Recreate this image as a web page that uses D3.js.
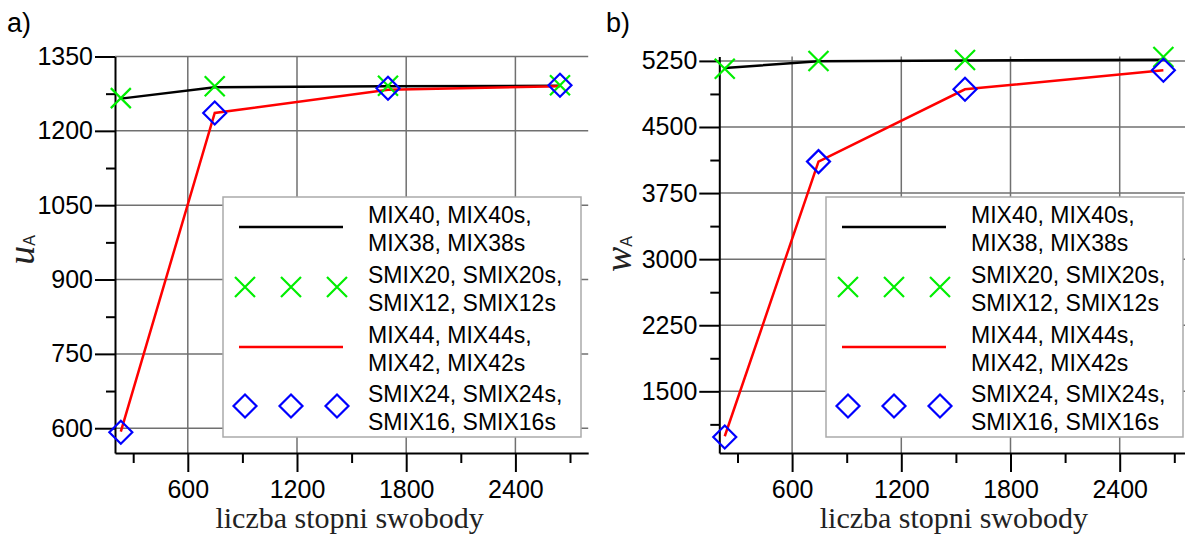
<!DOCTYPE html>
<html><head><meta charset="utf-8">
<script src="https://cdn.jsdelivr.net/npm/d3@7"></script>
<style>body{margin:0;background:#fff;} svg{display:block;}</style>
</head><body>
<svg id="c" width="1185" height="536"></svg>
<script>
// ---- data ----
const dofA = [232, 748, 1700, 2645];   // x positions read from panel a)
const dofB = [230, 745, 1550, 2640];   // x positions read from panel b)
// panel a) u_A
const uA_mixA = [1265, 1288, 1290, 1291];     // MIX40, MIX40s, MIX38, MIX38s (black line)
const uA_smixA = [1266, 1290, 1291, 1292];    // SMIX20 ... (green x)
const uA_mixB = [593, 1236, 1283, 1290];      // MIX44 ... (red line)
const uA_smixB = [592, 1236, 1286, 1292];     // SMIX24 ... (blue diamond)
// panel b) w_A
const wA_mixA = [5170, 5245, 5255, 5262];
const wA_smixA = [5160, 5250, 5260, 5295];
const wA_mixB = [990, 4107, 4928, 5144];
const wA_smixB = [981, 4107, 4928, 5144];
const xTicks = [600, 1200, 1800, 2400];
const xMinor = [300, 900, 1500, 2100, 2700];
const uTicks = [600, 750, 900, 1050, 1200, 1350];
const uMinor = [675, 825, 975, 1125, 1275];
const wTicks = [1500, 2250, 3000, 3750, 4500, 5250];
const wMinor = [1125, 1875, 2625, 3375, 4125, 4875];
const legendLabels = [
  ["MIX40, MIX40s,", "MIX38, MIX38s"],
  ["SMIX20, SMIX20s,", "SMIX12, SMIX12s"],
  ["MIX44, MIX44s,", "MIX42, MIX42s"],
  ["SMIX24, SMIX24s,", "SMIX16, SMIX16s"]
];

const svg = d3.select("#c");
const SANS = "'Liberation Sans', Arial, sans-serif";
const SERIF = "'Liberation Serif', 'Times New Roman', serif";
const fmt = d3.format("d");

function panel(o) {
  const g = svg.append("g");
  const dof = o.dof;
  const x = d3.scaleLinear().domain([200, 2800]).range([o.left, o.left + 473.2]);
  const y = d3.scaleLinear().domain(o.ydom).range([453, 56.5]);
  // grid
  g.append("g").selectAll("line").data(o.yTicks).join("line")
    .attr("x1", x(200)).attr("x2", x(2800)).attr("y1", d => y(d)).attr("y2", d => y(d))
    .attr("stroke", "#707070").attr("stroke-width", 1.5);
  g.append("g").selectAll("line").data(xTicks).join("line")
    .attr("x1", d => x(d)).attr("x2", d => x(d)).attr("y1", y(o.ydom[0])).attr("y2", y(o.ydom[1]))
    .attr("stroke", "#707070").attr("stroke-width", 1.5);
  // axes
  const ax = d3.axisBottom(x).tickValues(xTicks).tickFormat(fmt).tickSize(19).tickPadding(8).tickSizeOuter(0);
  const gx = g.append("g").attr("transform", `translate(0,${y(o.ydom[0])})`).call(ax);
  gx.selectAll("line, path").attr("stroke", "#000").attr("stroke-width", 2);
  gx.selectAll("text").attr("font-family", SANS).attr("font-size", 25).attr("fill", "#000");
  g.append("g").attr("transform", `translate(0,${y(o.ydom[0])})`)
    .call(d3.axisBottom(x).tickValues(xMinor).tickSize(10).tickFormat("").tickSizeOuter(0))
    .call(s => s.select("path").remove())
    .selectAll("line").attr("stroke", "#000").attr("stroke-width", 2);
  const ay = d3.axisLeft(y).tickValues(o.yTicks).tickFormat(fmt).tickSize(20).tickPadding(2).tickSizeOuter(0);
  const gy = g.append("g").attr("transform", `translate(${o.left},0)`).call(ay);
  gy.selectAll("line, path").attr("stroke", "#000").attr("stroke-width", 2);
  gy.selectAll("text").attr("font-family", SANS).attr("font-size", 25).attr("fill", "#000");
  g.append("g").attr("transform", `translate(${o.left},0)`)
    .call(d3.axisLeft(y).tickValues(o.yMinor).tickSize(9).tickFormat("").tickSizeOuter(0))
    .call(s => s.select("path").remove())
    .selectAll("line").attr("stroke", "#000").attr("stroke-width", 2);
  // lines
  const line = d3.line().x((d, i) => x(dof[i])).y(d => y(d));
  g.append("path").datum(o.mixA).attr("d", line).attr("fill", "none").attr("stroke", "#000").attr("stroke-width", 2.5);
  g.append("path").datum(o.mixB).attr("d", line).attr("fill", "none").attr("stroke", "#ff0000").attr("stroke-width", 2.5);
  // markers
  const cross = (sel, cx, cy) => sel.append("path")
    .attr("d", `M${cx-10},${cy-10}L${cx+10},${cy+10}M${cx-10},${cy+10}L${cx+10},${cy-10}`)
    .attr("stroke", "#00ee00").attr("stroke-width", 2.2).attr("fill", "none");
  const diamond = (sel, cx, cy) => sel.append("path")
    .attr("d", `M${cx},${cy-11.5}L${cx+11.5},${cy}L${cx},${cy+11.5}L${cx-11.5},${cy}Z`)
    .attr("stroke", "#0000ff").attr("stroke-width", 2.2).attr("fill", "none");
  o.smixA.forEach((d, i) => cross(g, x(dof[i]), y(d)));
  o.smixB.forEach((d, i) => diamond(g, x(dof[i]), y(d)));
  // legend
  const L = o.leg;
  const lg = g.append("g");
  lg.append("rect").attr("x", L.x).attr("y", 197).attr("width", L.w).attr("height", 240)
    .attr("fill", "#fff").attr("stroke", "#aaa").attr("stroke-width", 1.5);
  const rows = [227, 287, 347, 406];
  lg.append("line").attr("x1", L.x + 16).attr("x2", L.x + 120).attr("y1", rows[0]).attr("y2", rows[0]).attr("stroke", "#000").attr("stroke-width", 2.5);
  lg.append("line").attr("x1", L.x + 16).attr("x2", L.x + 120).attr("y1", rows[2]).attr("y2", rows[2]).attr("stroke", "#ff0000").attr("stroke-width", 2.5);
  [22, 68, 114].forEach(dx => { cross(lg, L.x + dx, rows[1]); diamond(lg, L.x + dx, rows[3]); });
  legendLabels.forEach((lab, i) => {
    const t = lg.append("text").attr("font-family", SANS).attr("font-size", 23).attr("fill", "#000");
    t.append("tspan").attr("x", L.x + 145).attr("y", rows[i] - 4).text(lab[0]);
    t.append("tspan").attr("x", L.x + 145).attr("y", rows[i] + 24).text(lab[1]);
  });
  // titles
  g.append("text").attr("x", x(1500) - 2).attr("y", 528).attr("text-anchor", "middle")
    .attr("font-family", SERIF).attr("font-size", 30).attr("fill", "#222").text("liczba stopni swobody");
  const yt = g.append("text").attr("transform", `translate(${o.ylx},${o.yly}) rotate(-90)`)
    .attr("text-anchor", "middle").attr("fill", "#222");
  yt.append("tspan").attr("font-family", SERIF).attr("font-style", "italic").attr("font-size", 38).text(o.ylab);
  yt.append("tspan").attr("font-family", SANS).attr("font-size", 16).attr("dy", 1).text("A");
  g.append("text").attr("x", o.px).attr("y", 32).attr("font-family", SANS).attr("font-size", 27).attr("fill", "#000").text(o.plab);
}

panel({left: 115, dof: dofA, ydom: [550, 1350], yTicks: uTicks, yMinor: uMinor,
  mixA: uA_mixA, smixA: uA_smixA, mixB: uA_mixB, smixB: uA_smixB,
  leg: {x: 223, w: 358}, ylab: "u", ylx: 34, yly: 250, plab: "a)", px: 7});
panel({left: 719.3, dof: dofB, ydom: [800, 5300], yTicks: wTicks, yMinor: wMinor,
  mixA: wA_mixA, smixA: wA_smixA, mixB: wA_mixB, smixB: wA_smixB,
  leg: {x: 826, w: 357}, ylab: "w", ylx: 631, yly: 254, plab: "b)", px: 606});
</script>
</body></html>
